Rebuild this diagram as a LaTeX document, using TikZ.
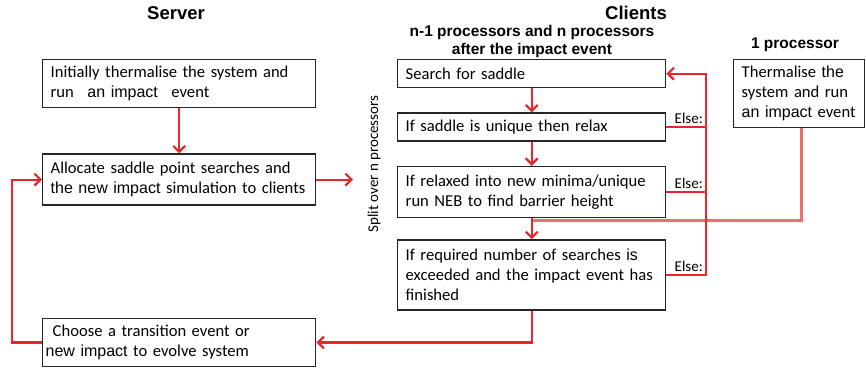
\documentclass[tikz,border=0pt]{standalone}
\usepackage{fontspec}
\setmainfont{Carlito}
\newfontfamily\arialfont{Liberation Sans}
\usetikzlibrary{positioning,arrows.meta}
\definecolor{flowred}{RGB}{232,38,44}
\definecolor{joinred}{RGB}{240,108,110}
\newcommand{\arl}[1]{{\arialfont\fontsize{16}{20}\selectfont #1}}

\begin{document}
\begin{tikzpicture}[x=1pt,y=-1pt,>={Straight Barb[length=6pt,width=12pt]},
	box/.style={draw=black!85,line width=1.4pt,align=left,inner xsep=8pt,inner ysep=3pt,font=\fontsize{16.6}{20}\selectfont},
	server box/.style={box,text width=257pt},
	client box/.style={box,text width=252pt},
	title/.style={font=\arialfont\bfseries\fontsize{18.5}{20}\selectfont},
	subtitle/.style={font=\arialfont\bfseries\fontsize{15.5}{18}\selectfont,align=center},
	note/.style={font=\fontsize{15}{17}\selectfont,inner sep=1pt},
	flow/.style={->,flowred,line width=2.2pt},
	loop/.style={flowred,line width=2.2pt}]
	\useasboundingbox (0,0) rectangle (866,367);
	% headings
	\node[title]    (server)  at (176,13)  {Server};
	\node[title]    (clients) at (636,13)  {Clients};
	\node[subtitle] (many)    at (532,41)  {n-1 processors and n processors\\after the impact event};
	\node[subtitle] (one)     at (795,45)  {1 processor};
	% server side
	\node[server box,minimum height=48pt,anchor=north west] (init) at (42,59)
		{Initially thermalise the system and\\run\hspace{8pt} \arl{an impact}\hspace{8pt} event};
	\node[server box,minimum height=51pt,below=45pt of init] (alloc)
		{Allocate saddle point searches and\\\arl{the new impact} simulation to clients};
	\node[server box,minimum height=48pt,below=112pt of alloc] (choose)
		{\hspace*{2pt}Choose a transition event or\\\hspace*{-5pt}\arl{new impact} to evolve system};
	% clients
	\node[client box,minimum height=28pt,anchor=north west] (search) at (397,59) {Search for saddle};
	\node[client box,minimum height=28pt,below=24pt of search] (unique) {If saddle is unique then relax};
	\node[client box,minimum height=51pt,below=24pt of unique] (relax)
		{If relaxed into new minima/unique\\run NEB to find barrier height};
	\node[client box,minimum height=70pt,below=21pt of relax] (finish)
		{If required number of searches \arl{is}\\exceeded and the impact event has\\finished};
	\node[box,text width=115pt,minimum height=68pt,anchor=north west] (therm) at (733,59)
		{Thermalise \arl{the}\\system and run\\\arl{an impact}\ event};
	\node[note,rotate=90] (split) at (374,164) {Split over n processors};
	% helper points
	\coordinate (splitin) at (353,0);
	\coordinate (rail)    at (706,0);
	\coordinate (left)    at (12,0);
	\coordinate (join)    at (531,220);
	% connectors
	\draw[joinred,line width=3pt] ([xshift=2pt]therm.south) |- (join);
	\draw[flow] (init) -- (alloc);
	\draw[flow] (alloc.east) -- (alloc.east -| splitin);
	\draw[flow] (search) -- (unique);
	\draw[flow] (unique) -- (relax);
	\draw[flow] (relax) -- (finish);
	\draw[flow] (finish.east) -| (rail |- search.east) -- (search.east);
	\draw[loop] (unique.east) -- (unique.east -| rail);
	\draw[loop] (relax.east) -- (relax.east -| rail);
	\draw[flow] (finish.south) |- (choose.east);
	\draw[flow] (choose.west) -- (choose.west -| left) -- (alloc.west -| left) -- (alloc.west);
	% else labels
	\node[note,anchor=south east] (else1) at ([xshift=-2pt,yshift=2pt]unique.east -| rail) {Else:};
	\node[note,anchor=south east] (else2) at ([xshift=-2pt,yshift=2pt]relax.east -| rail)  {Else:};
	\node[note,anchor=south east] (else3) at ([xshift=-2pt,yshift=2pt]finish.east -| rail) {Else:};
\end{tikzpicture}
\end{document}
